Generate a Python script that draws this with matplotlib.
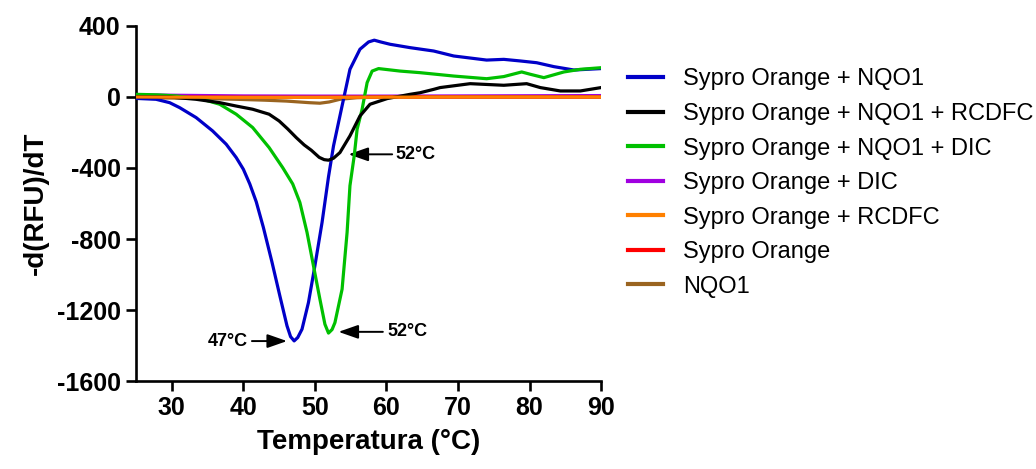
import matplotlib
matplotlib.use("Agg")
import matplotlib.pyplot as plt

plt.rcParams['font.family'] = ['Liberation Sans', 'DejaVu Sans']
plt.rcParams['axes.unicode_minus'] = False

# Melt curves: temperature (°C) and -d(RFU)/dT
t_nqo1 = [25, 27.8, 29.7, 31.1, 33.4, 35.7, 37.6, 39.0, 40.0, 40.9, 41.8, 42.8, 44.0, 45.1,
          46.1, 46.6, 47.1, 47.6, 48.2, 49.1, 50.0, 51.0, 51.9, 52.6, 53.8, 54.9, 56.3,
          57.5, 58.3, 59.2, 60.5, 63.3, 66.6, 69.4, 74.0, 76.4, 78.7, 81.0, 83.4, 86.2, 90]
y_nqo1 = [-8, -13, -32, -60, -116, -191, -266, -341, -407, -490, -590, -735, -930, -1120,
          -1289, -1350, -1374, -1355, -1308, -1158, -951, -707, -450, -276, -50, 156, 269,
          310, 320, 310, 297, 278, 259, 231, 208, 212, 203, 193, 171, 152, 160]

t_nqo1_rcdfc = [25, 29.7, 33.4, 36.7, 39.0, 41.3, 43.6, 45.0, 46.2, 47.4, 48.5, 49.5, 50.6,
                51.3, 51.9, 52.6, 53.5, 54.9, 56.3, 57.7, 60.1, 63.3, 64.7, 66.6, 67.5,
                71.7, 76.4, 79.6, 81.5, 84.3, 87.1, 90]
y_nqo1_rcdfc = [2, 0, -13, -32, -51, -69, -97, -135, -180, -229, -270, -300, -340,
                -353, -356, -345, -313, -219, -107, -41, -9, 15, 24, 43, 53,
                75, 66, 75, 53, 34, 34, 53]

t_nqo1_dic = [25, 28, 30.6, 34.3, 36.7, 39.0, 41.3, 43.6, 45.5, 46.9, 47.9, 48.9, 49.8,
              50.7, 51.4, 51.9, 52.4, 52.8, 53.8, 54.5, 54.9, 55.5, 55.9, 56.6, 57.3,
              58.0, 58.9, 61.9, 64.7, 69.4, 74.0, 76.4, 78.9, 80.1, 82.0, 84.8, 87.1, 90]
y_nqo1_dic = [15, 12, 6, -13, -41, -97, -172, -285, -398, -490, -594, -763, -951,
              -1139, -1280, -1330, -1310, -1271, -1083, -763, -500, -330, -182, -69, 81,
              146, 160, 146, 137, 118, 103, 115, 141, 128, 109, 141, 156, 165]

t_dic = [25, 30, 35, 40, 50, 60, 70, 80, 90]
y_dic = [12, 10, 8, 6, 5, 5, 6, 7, 8]

t_rcdfc = [25, 30, 40, 50, 60, 70, 80, 90]
y_rcdfc = [0, -1, -2, -2, -1, 0, 0, 0]

t_sypro = [25, 30, 40, 50, 60, 70, 80, 90]
y_sypro = [0, 0, -1, -1, 0, 0, 0, 0]

t_enzyme = [25, 30, 35, 39, 43, 46, 49.2, 50.7, 52, 53.5, 55.9, 60, 90]
y_enzyme = [-4, -6, -9, -13, -18, -23, -32, -35, -28, -13, -4, 0, 0]

labels = ["Sypro Orange + NQO1", "Sypro Orange + NQO1 + RCDFC", "Sypro Orange + NQO1 + DIC",
          "Sypro Orange + DIC", "Sypro Orange + RCDFC", "Sypro Orange", "NQO1"]
colors = ["#0000C8", "#000000", "#00C000", "#A000E0", "#FF8000", "#FF0000", "#9A6420"]
series = [(t_nqo1, y_nqo1), (t_nqo1_rcdfc, y_nqo1_rcdfc), (t_nqo1_dic, y_nqo1_dic),
          (t_dic, y_dic), (t_rcdfc, y_rcdfc), (t_sypro, y_sypro), (t_enzyme, y_enzyme)]
zorders = [3, 4, 3.5, 2, 6, 2.5, 2.2]

x_ticks = [30, 40, 50, 60, 70, 80, 90]
y_ticks = [-1600, -1200, -800, -400, 0, 400]

fig = plt.figure(figsize=(10.36, 4.69), dpi=100)
ax = fig.add_axes([0.1313, 0.1876, 0.4489, 0.757])

for (t, y), lab, c, z in zip(series, labels, colors, zorders):
    ax.plot(t, y, color=c, lw=2.3, label=lab, zorder=z, solid_joinstyle='round')

ax.set_xlim(25, 90)
ax.set_ylim(-1600, 400)
ax.set_xticks(x_ticks)
ax.set_yticks(y_ticks)
for s in ['top', 'right']:
    ax.spines[s].set_visible(False)
for s in ['left', 'bottom']:
    ax.spines[s].set_linewidth(1.9)
ax.tick_params(direction='out', length=7, width=1.9, labelsize=18, pad=4)
for lbl in ax.get_xticklabels() + ax.get_yticklabels():
    lbl.set_fontweight('bold')

ax.set_xlabel("Temperatura (°C)", fontsize=20, fontweight='bold', labelpad=6)
ax.set_ylabel("-d(RFU)/dT", fontsize=20, fontweight='bold', labelpad=6)

# Peak annotations
arrow_kw = dict(arrowstyle='-|>,head_length=1.2,head_width=0.42', color='black',
                lw=1.4, shrinkA=0, shrinkB=0, mutation_scale=10)
ax.annotate('', xy=(46.1, -1375), xytext=(41.2, -1375), arrowprops=arrow_kw)
ax.text(40.7, -1375, "47°C", ha='right', va='center', fontsize=13, fontweight='bold')
ax.annotate('', xy=(53.3, -1323), xytext=(59.5, -1323), arrowprops=arrow_kw)
ax.text(60.1, -1323, "52°C", ha='left', va='center', fontsize=13, fontweight='bold')
ax.annotate('', xy=(54.7, -323), xytext=(60.8, -323), arrowprops=arrow_kw)
ax.text(61.2, -323, "52°C", ha='left', va='center', fontsize=13, fontweight='bold')

leg = ax.legend(loc='upper left', bbox_to_anchor=(0.606, 0.854), bbox_transform=fig.transFigure,
                frameon=False, fontsize=17, handlelength=1.5, handletextpad=0.85,
                labelspacing=0.53, borderaxespad=0, borderpad=0)
for line in leg.get_lines():
    line.set_linewidth(3)

fig.savefig("out.png", dpi=100)
